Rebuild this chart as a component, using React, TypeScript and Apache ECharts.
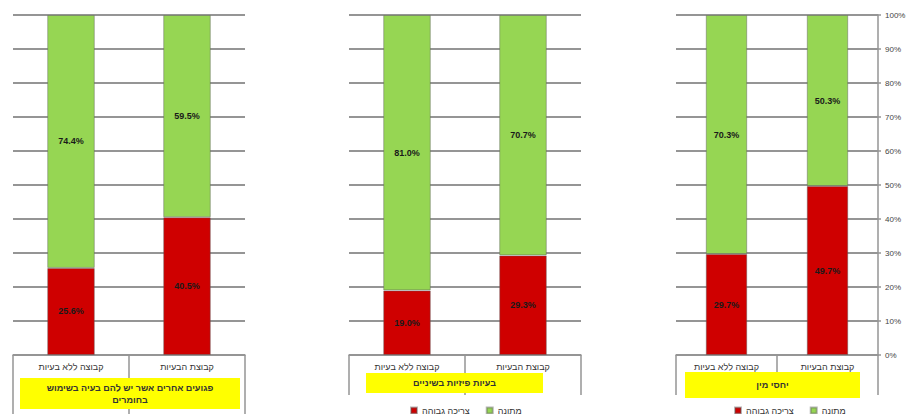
import React, { useEffect, useRef } from "react";
import * as echarts from "echarts";

const categories = ["קבוצה ללא בעיות", "קבוצת הבעיות"];
const panelTitles = [
  ["פגועים אחרים אשר יש להם בעיה בשימוש", "בחומרים"],
  ["בעיות פיזיות בשיניים"],
  ["יחסי מין"],
];
const seriesNames = ["צריכה גבוהה", "מתונה"];
const redValues = [
  [25.6, 40.5],
  [19.0, 29.3],
  [29.7, 49.7],
];
const greenValues = [
  [74.4, 59.5],
  [81.0, 70.7],
  [70.3, 50.3],
];
const yTicks = ["0%", "10%", "20%", "30%", "40%", "50%", "60%", "70%", "80%", "90%", "100%"];

const RED = "#cf0000";
const GREEN = "#96d653";
const GRID_COLOR = "#959595";

const grids = [
  { left: 13, width: 232, top: 15, height: 340 },
  { left: 349, width: 232, top: 15, height: 340 },
  { left: 676, width: 202, top: 15, height: 340 },
];
const tickLens = [59, 40, 40];
const barWidths = ["41%", "41%", "41%"];
const yellowBoxes = [
  { x: 20, y: 378, w: 220, h: 31 },
  { x: 366, y: 373, w: 177, h: 20 },
  { x: 685, y: 372, w: 175, h: 26 },
];

export default function App() {
  const ref = useRef<HTMLDivElement>(null);
  useEffect(() => {
    if (!ref.current) return;
    const chart = echarts.init(ref.current, null, { renderer: "svg" });
    const fontFamily = "'Liberation Sans', Arial, sans-serif";

    const xAxis = grids.map((_, i) => ({
      type: "category" as const,
      gridIndex: i,
      data: categories,
      axisLine: { show: true, lineStyle: { color: GRID_COLOR, width: 1.5 } },
      axisTick: {
        show: true,
        alignWithLabel: false,
        length: tickLens[i],
        lineStyle: { color: GRID_COLOR, width: 1.5 },
      },
      axisLabel: { fontSize: 9, color: "#333", margin: 7, fontFamily, interval: 0 },
    }));

    const yAxis = grids.map((_, i) => ({
      type: "value" as const,
      gridIndex: i,
      min: 0,
      max: 100,
      interval: 10,
      position: "right" as const,
      splitLine: { show: true, lineStyle: { color: GRID_COLOR, width: 1.8 } },
      axisLine: { show: i === 2, lineStyle: { color: GRID_COLOR, width: 1.5 } },
      axisTick: { show: i === 2, length: 3, lineStyle: { color: GRID_COLOR, width: 1.5 } },
      axisLabel: {
        show: i === 2,
        fontSize: 8,
        color: "#444",
        margin: 7,
        fontFamily,
        formatter: (v: number) => yTicks[Math.round(v / 10)],
      },
    }));

    const series: any[] = [];
    grids.forEach((_, i) => {
      [redValues[i], greenValues[i]].forEach((vals, k) => {
        series.push({
          type: "bar",
          name: seriesNames[k],
          xAxisIndex: i,
          yAxisIndex: i,
          stack: "p" + i,
          barWidth: barWidths[i],
          data: vals,
          itemStyle: {
            color: k === 0 ? RED : GREEN,
            borderColor: "rgba(90,90,90,0.45)",
            borderWidth: 1,
          },
          label: {
            show: true,
            position: "inside",
            fontSize: 9,
            fontWeight: "bold",
            color: "#1a1a1a",
            fontFamily,
            formatter: (p: any) => Number(p.value).toFixed(1) + "%",
          },
        });
      });
    });

    const graphics: any[] = [];
    yellowBoxes.forEach((b, i) => {
      graphics.push({
        type: "rect",
        z: 100,
        shape: { x: b.x, y: b.y, width: b.w, height: b.h },
        style: { fill: "#ffff00" },
      });
      const lines = panelTitles[i];
      const lh = 12;
      lines.forEach((t, j) => {
        graphics.push({
          type: "text",
          z: 101,
          x: b.x + b.w / 2,
          y: b.y + b.h / 2 + (j - (lines.length - 1) / 2) * lh,
          style: {
            text: t,
            align: "center",
            verticalAlign: "middle",
            fontSize: 9,
            fontWeight: "bold",
            fill: "#333",
            fontFamily,
          },
        });
      });
    });

    const legendBase = {
      top: 401,
      itemWidth: 6,
      itemHeight: 6,
      itemGap: 16,
      icon: "rect",
      textStyle: { fontSize: 9, color: "#333", fontFamily },
      data: seriesNames,
      selectedMode: false,
    };

    chart.setOption({
      animation: false,
      backgroundColor: "#ffffff",
      grid: grids.map((g) => ({ ...g, containLabel: false })),
      xAxis,
      yAxis,
      series,
      legend: [
        { ...legendBase, left: 405 },
        { ...legendBase, left: 729 },
      ],
      graphic: graphics,
    });
    return () => chart.dispose();
  }, []);

  return (
    <div
      ref={ref}
      style={{ position: "fixed", left: 0, top: 0, width: 918, height: 414 }}
    />
  );
}
